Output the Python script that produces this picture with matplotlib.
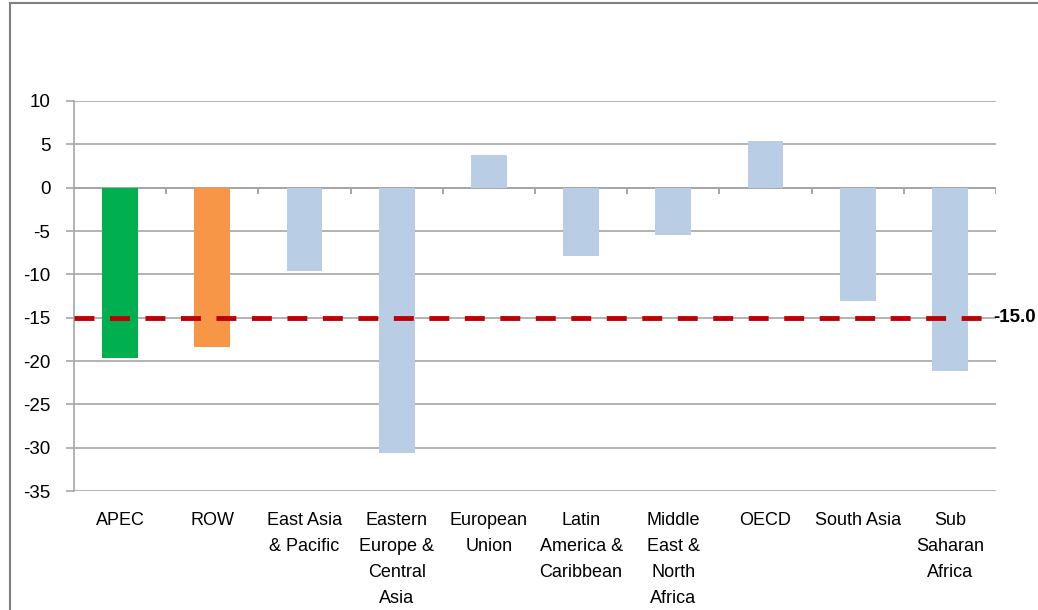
import matplotlib
matplotlib.use("Agg")
import matplotlib.pyplot as plt
from matplotlib.patches import Rectangle
import numpy as np

categories = ["APEC", "ROW", "East Asia\n& Pacific", "Eastern\nEurope &\nCentral\nAsia",
              "European\nUnion", "Latin\nAmerica &\nCaribbean", "Middle\nEast &\nNorth\nAfrica",
              "OECD", "South Asia", "Sub\nSaharan\nAfrica"]
values = [-19.7, -18.4, -9.6, -30.6, 3.8, -7.9, -5.5, 5.4, -13.1, -21.1]
colors = ["#00B050", "#F79646"] + ["#B9CDE5"] * 8
reference_value = -15.0
yticks = list(range(-35, 11, 5))

plt.rcParams['font.family'] = ['Liberation Sans Narrow', 'Liberation Sans', 'DejaVu Sans']

fig = plt.figure(figsize=(10.38, 6.10), dpi=100)
fig.patches.append(Rectangle((10/1038, -0.1), 1.2, 1 - 3/610 + 0.1, transform=fig.transFigure,
                             fill=False, edgecolor="#808080", lw=1.5))

ax = fig.add_axes([74/1038, 1 - 491/610, 922/1038, 390/610])
x = np.arange(len(categories))
ax.bar(x, values, width=0.39, color=colors, zorder=3)
ax.set_xlim(-0.5, len(categories) - 0.5)
ax.set_ylim(-35, 10)
ax.set_yticks(yticks)
ax.set_yticklabels([str(t) for t in yticks], fontsize=13.5)
ax.yaxis.grid(True, color="#A6A6A6", lw=1.2, zorder=0)
ax.set_axisbelow(True)
for s in ["top", "right", "bottom"]:
    ax.spines[s].set_visible(False)
ax.spines["left"].set_color("#A6A6A6")
ax.spines["left"].set_linewidth(1.2)
ax.tick_params(axis="y", length=6, color="#A6A6A6", width=1.2, pad=11)

ax.set_xticks(x)
ax.set_xticklabels(categories, fontsize=13, linespacing=1.71, va="top")
ax.tick_params(axis="x", length=0, pad=14.8)

# zero axis line and category boundary ticks
ax.axhline(0, color="#A6A6A6", lw=1.4, zorder=2)
bounds = np.arange(len(categories)) + 0.5
ax.vlines(bounds, -0.75, 0, color="#A6A6A6", lw=1.4, zorder=2)

# reference line
ax.axhline(reference_value, xmin=0, xmax=0.995, color="#C00000", lw=3.5,
           dashes=(4.1, 3.2), dash_capstyle="butt", zorder=4)
ax.text(0.997, reference_value, f"{reference_value:.1f}", transform=ax.get_yaxis_transform(),
        fontsize=13.5, fontweight="bold", va="center", ha="left", clip_on=False)

fig.savefig("out.png", dpi=100)
